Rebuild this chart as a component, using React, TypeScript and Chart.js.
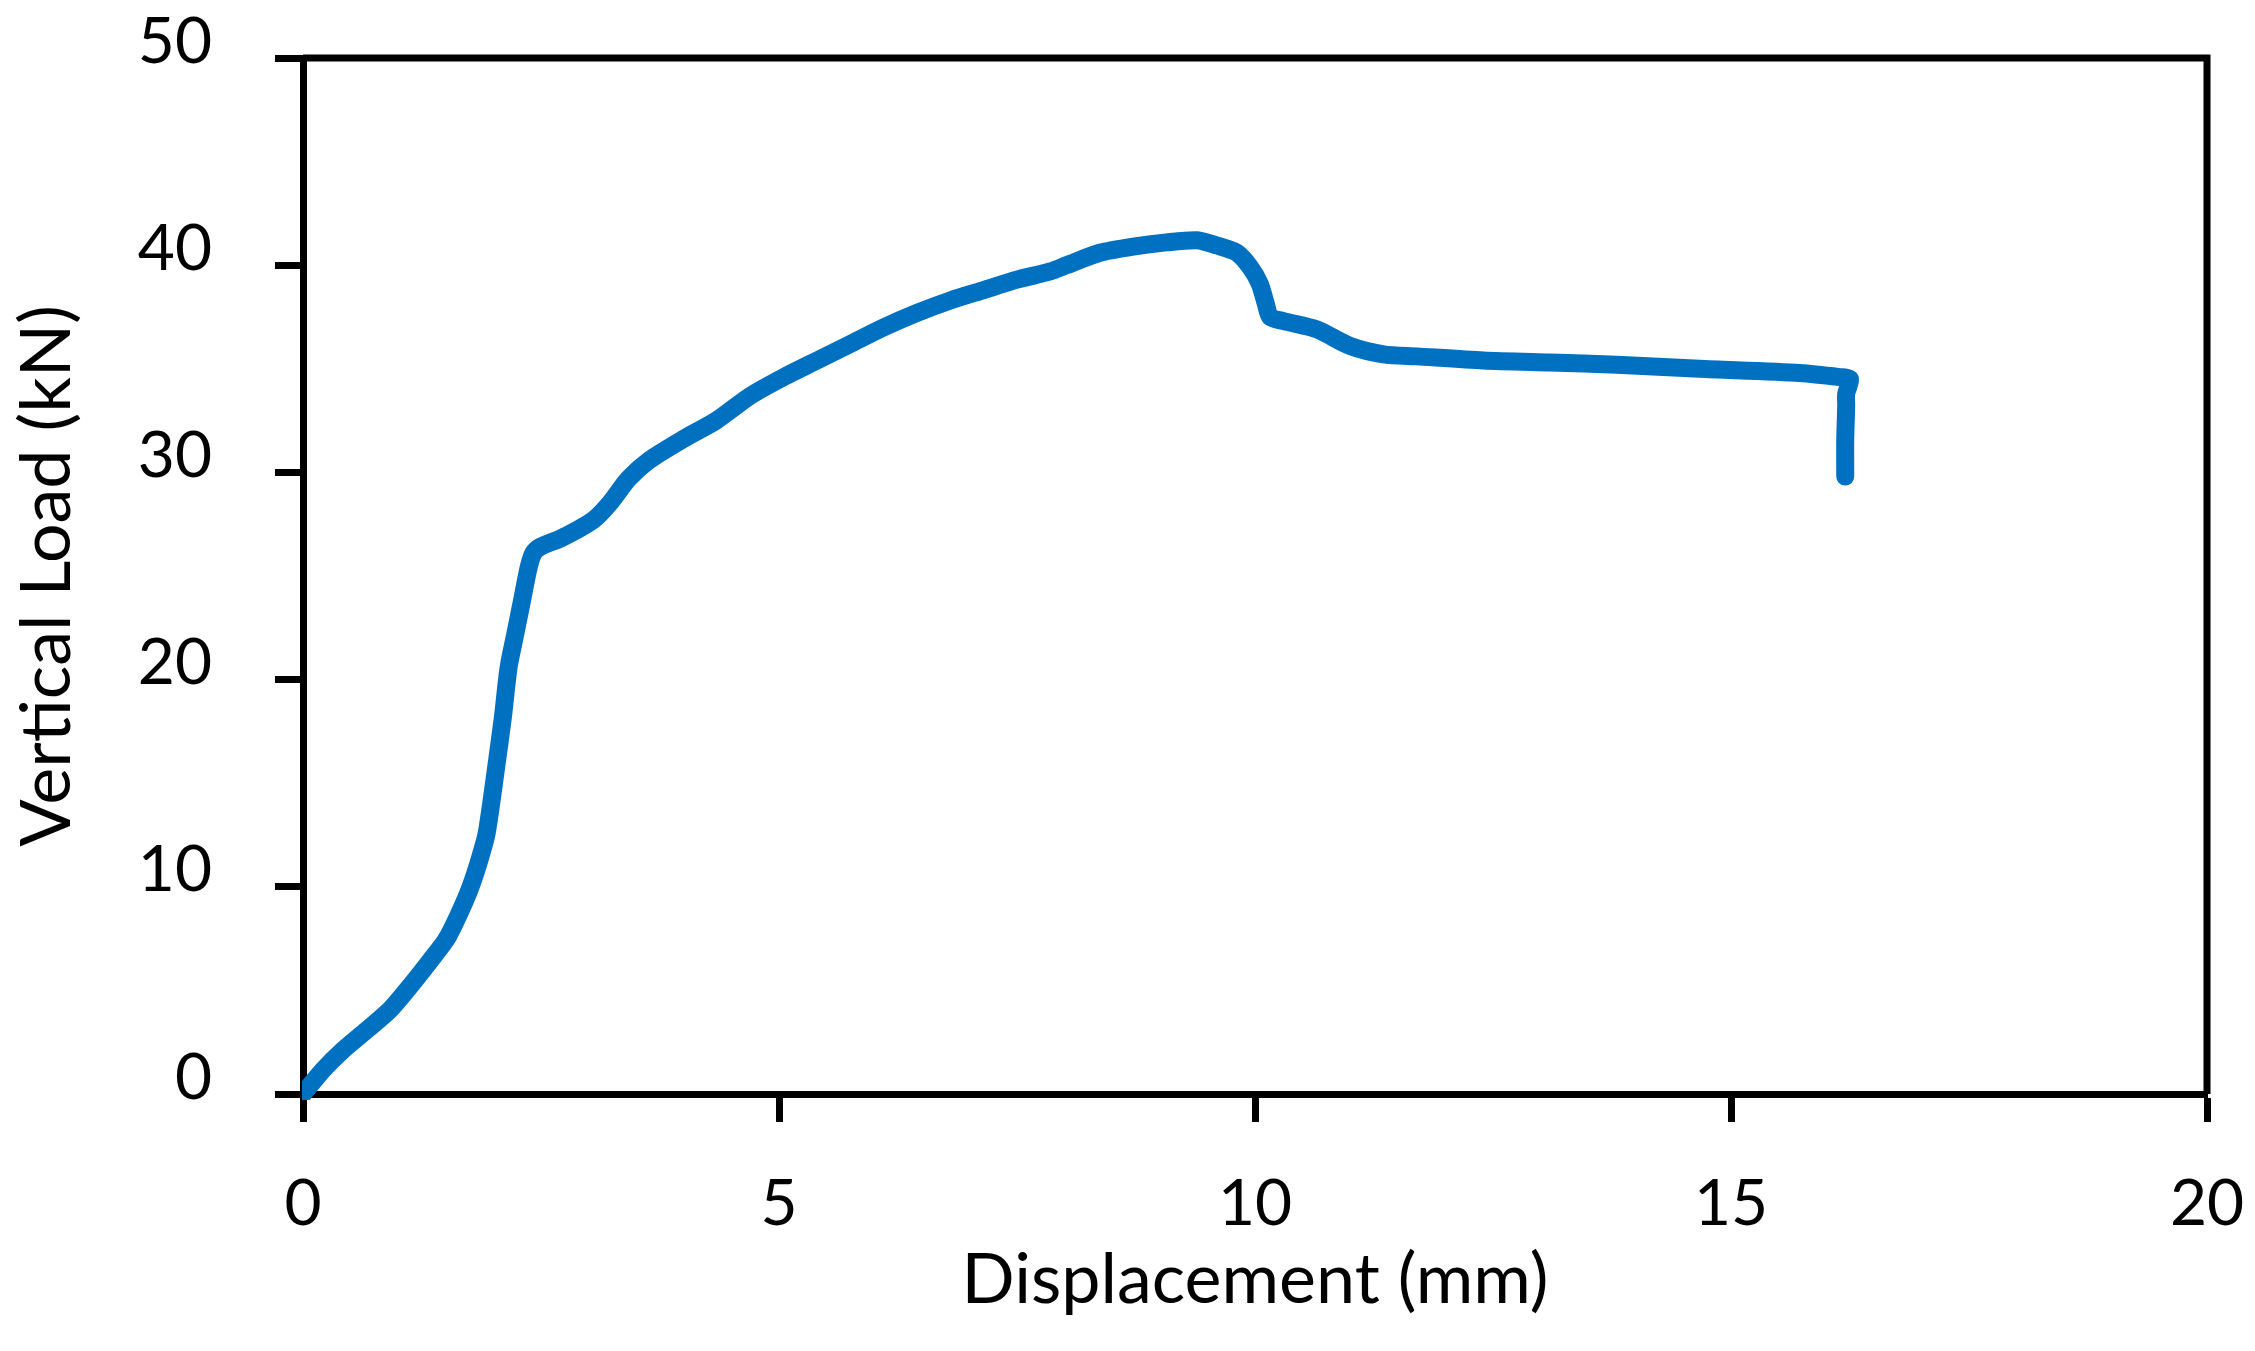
import React, { useEffect, useRef } from "react";
import { Chart, registerables } from "chart.js";

Chart.register(...registerables);

// Displacement (mm)
const displacement = [
  0, 0.21, 0.42, 0.67, 0.91, 1.12, 1.33, 1.51, 1.65, 1.76, 1.86, 1.93, 2.03, 2.1, 2.16, 2.23, 2.3,
  2.37, 2.42, 2.49, 2.7, 2.87, 3.05, 3.22, 3.42, 3.64, 3.99, 4.34, 4.7, 5.05, 5.4, 5.75, 6.1, 6.45,
  6.8, 7.15, 7.5, 7.85, 8.02, 8.37, 8.72, 9.07, 9.39, 9.6, 9.81, 9.95, 10.05, 10.11, 10.16, 10.3,
  10.65, 11.0, 11.35, 11.7, 12.4, 13.1, 13.8, 14.67, 15.72, 16.14, 16.25, 16.21, 16.21, 16.2, 16.2,
];

// Vertical Load (kN)
const load = [
  0, 1.16, 2.12, 3.09, 4.05, 5.18, 6.4, 7.5, 8.8, 10.0, 11.4, 12.6, 15.8, 18.2, 20.6, 22.2, 23.8,
  25.4, 26.1, 26.4, 26.8, 27.2, 27.7, 28.5, 29.7, 30.6, 31.6, 32.5, 33.7, 34.6, 35.4, 36.2, 37.0, 37.7,
  38.3, 38.8, 39.3, 39.7, 40.0, 40.6, 40.9, 41.1, 41.2, 40.95, 40.6, 39.9, 39.1, 38.2, 37.5, 37.3,
  36.9, 36.1, 35.7, 35.6, 35.4, 35.3, 35.2, 35.0, 34.8, 34.6, 34.5, 33.8, 33.2, 31.6, 29.8,
];

const xTicks = [0, 5, 10, 15, 20];
const yTicks = [0, 10, 20, 30, 40, 50];

const xTitle = "Displacement (mm)";
const yTitle = "Vertical Load (kN)";

export default function App() {
  const ref = useRef<HTMLCanvasElement>(null);

  useEffect(() => {
    if (!ref.current) return;
    const framePlugin = {
      id: "frame",
      beforeDatasetsDraw(chart: any) {
        const { ctx, chartArea } = chart;
        const { left, right, top, bottom } = chartArea;
        ctx.save();
        ctx.strokeStyle = "#000";
        ctx.lineWidth = 7;
        ctx.lineCap = "butt";
        ctx.beginPath();
        ctx.moveTo(left, top);
        ctx.lineTo(right + 3.5, top);
        ctx.moveTo(right, top);
        ctx.lineTo(right, bottom);
        ctx.stroke();
        ctx.restore();
      },
    };

    const chart = new Chart(ref.current, {
      type: "scatter",
      data: {
        datasets: [
          {
            data: displacement.map((x, i) => ({ x, y: load[i] })),
            showLine: true,
            borderColor: "#0070C0",
            backgroundColor: "#0070C0",
            borderWidth: 18,
            pointRadius: 0,
            pointHoverRadius: 0,
            borderCapStyle: "round",
            borderJoinStyle: "round",
            tension: 0.25,
            clip: { left: 1, bottom: 6, top: 20, right: 20 } as any,
          },
        ],
      },
      options: {
        responsive: false,
        animation: false,
        events: [],
        layout: { padding: { top: 58, right: 48, left: 0, bottom: 0 } },
        plugins: { legend: { display: false }, tooltip: { enabled: false } },
        scales: {
          x: {
            type: "linear",
            min: 0,
            max: 20,
            afterBuildTicks: (scale: any) => {
              scale.ticks = xTicks.map((v) => ({ value: v }));
            },
            afterFit: (scale: any) => {
              scale.height = 257;
              scale.paddingLeft = 0;
              scale.paddingRight = 0;
            },
            border: { display: true, color: "#000", width: 7 },
            grid: {
              drawOnChartArea: false,
              drawTicks: true,
              tickLength: 28,
              tickWidth: 7,
              tickColor: "#000",
            },
            ticks: {
              color: "#000",
              font: { family: "Lato", size: 64 },
              padding: 44,
              maxRotation: 0,
              autoSkip: false,
            },
            title: {
              display: true,
              text: xTitle,
              color: "#000",
              font: { family: "Lato", size: 70 },
              padding: { top: 0, bottom: 29 },
            },
          },
          y: {
            type: "linear",
            min: 0,
            max: 50,
            afterBuildTicks: (scale: any) => {
              scale.ticks = yTicks.map((v) => ({ value: v }));
            },
            afterFit: (scale: any) => {
              scale.width = 303;
              scale.paddingTop = 0;
              scale.paddingBottom = 0;
            },
            border: { display: true, color: "#000", width: 7 },
            grid: {
              drawOnChartArea: false,
              drawTicks: true,
              tickLength: 28,
              tickWidth: 7,
              tickColor: "#000",
            },
            ticks: {
              color: "#000",
              font: { family: "Lato", size: 64 },
              padding: 63,
              labelOffset: -16,
              autoSkip: false,
            },
            title: {
              display: true,
              text: yTitle,
              color: "#000",
              font: { family: "Lato", size: 70 },
              padding: { top: 5, bottom: 0 },
            },
          },
        },
      },
      plugins: [framePlugin],
    });

    return () => chart.destroy();
  }, []);

  return (
    <div
      style={{
        position: "fixed",
        left: 0,
        top: 0,
        width: 2255,
        height: 1351,
        background: "#fff",
      }}
    >
      <canvas
        ref={ref}
        width={2255}
        height={1351}
        style={{ width: 2255, height: 1351, display: "block" }}
      />
    </div>
  );
}
